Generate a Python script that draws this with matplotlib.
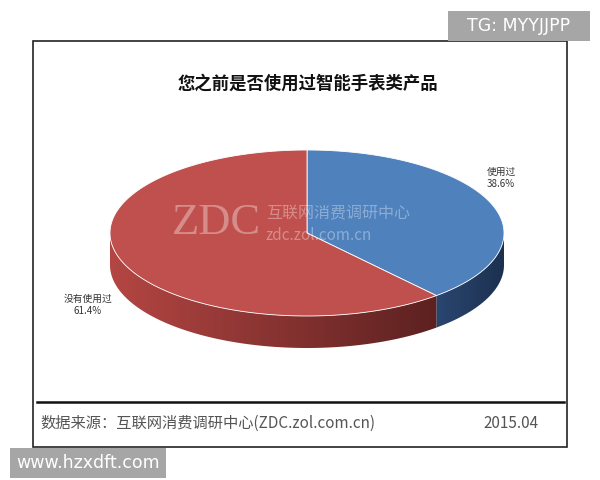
import numpy as np
import matplotlib.pyplot as plt
from matplotlib.patches import Polygon, Rectangle
from matplotlib.colors import LinearSegmentedColormap

plt.rcParams['font.family'] = ['Noto Sans CJK SC', 'DejaVu Sans']

labels = ['使用过', '没有使用过']
shares = [38.6, 61.4]
top_colors = ['#4F81BD', '#C0504D']
title = '您之前是否使用过智能手表类产品'
source = '数据来源：互联网消费调研中心(ZDC.zol.com.cn)'
date = '2015.04'

fig = plt.figure(figsize=(6, 4.8), dpi=100)
ax = fig.add_axes([0, 0, 1, 1])
ax.set_xlim(0, 600)
ax.set_ylim(480, 0)
ax.axis('off')

# frame and footer rule
ax.add_patch(Rectangle((33, 41), 534, 406, fill=False, ec='#222222', lw=1.2))
ax.plot([37, 564], [402, 402], color='#111111', lw=1.8)

# 3d pie geometry
cx, cy, rx, ry, depth = 307, 233, 197, 83, 32

def pt(a):
    a = np.radians(a)
    return cx + rx * np.cos(a), cy - ry * np.sin(a)

# slice angles, clockwise from 12 o'clock
starts = []
a = 90
for s in shares:
    starts.append((a, a - s * 3.6))
    a -= s * 3.6

# side colours: (left end, right end)
side_cols = [('#2A4670', '#1C3150'), ('#B44643', '#5C2120')]

# side walls, front half only, gradient image clipped to the wall shape
for (a0, a1), (cl, cr) in zip(starts, side_cols):
    lo, hi = max(min(a0, a1), -180), min(max(a0, a1), 0)
    if lo >= hi:
        continue
    ang = np.linspace(lo, hi, 200)
    xs, ys = pt(ang)
    verts = list(zip(xs, ys)) + list(zip(xs[::-1], ys[::-1] + depth))
    wall = Polygon(verts, closed=True, fc='none', ec='none')
    ax.add_patch(wall)
    cmap = LinearSegmentedColormap.from_list('side', [cl, cr])
    grad = np.linspace(0, 1, 256).reshape(1, -1)
    im = ax.imshow(grad, cmap=cmap, aspect='auto', interpolation='bilinear',
                   extent=(xs.min(), xs.max(), ys.max() + depth + 1, ys.min() - 1))
    im.set_clip_path(wall)

ax.set_xlim(0, 600)
ax.set_ylim(480, 0)

# top faces
for (a0, a1), col in zip(starts, top_colors):
    ang = np.linspace(a0, a1, 200)
    xs, ys = pt(ang)
    verts = [(cx, cy)] + list(zip(xs, ys))
    ax.add_patch(Polygon(verts, closed=True, fc=col, ec='white', lw=0.6, zorder=3))

# watermark
ax.text(216, 223, 'ZDC', fontsize=32, family='Liberation Serif', color='#F2D8D6',
        alpha=0.45, ha='center', va='center', zorder=4)
ax.text(266, 214, '互联网消费调研中心', fontsize=11.5, color='white', alpha=0.35,
        ha='left', va='center', zorder=4)
ax.text(266, 236, 'zdc.zol.com.cn', fontsize=11, color='white', alpha=0.35,
        ha='left', va='center', zorder=4)

# data labels
ax.text(501, 178, labels[0] + '\n' + f'{shares[0]:.1f}%', fontsize=7, color='#333333',
        ha='center', va='center', linespacing=1.3)
ax.text(88, 305, labels[1] + '\n' + f'{shares[1]:.1f}%', fontsize=7, color='#333333',
        ha='center', va='center', linespacing=1.3)

ax.text(308, 84, title, fontsize=12.5, fontweight='bold', color='#111111',
        ha='center', va='center')
ax.text(40, 423, source, fontsize=11, color='#555555', ha='left', va='center')
ax.text(511, 423, date, fontsize=11, color='#555555', ha='center', va='center')

# overlay tags
ax.add_patch(Rectangle((448, 11), 142, 30, fc='#A6A6A6', ec='none', zorder=5))
ax.text(519, 26, 'TG: MYYJJPP', fontsize=12.5, color='white', ha='center', va='center',
        family='DejaVu Sans', zorder=6)
ax.add_patch(Rectangle((10, 448), 156, 30, fc='#A6A6A6', ec='none', zorder=5))
ax.text(88, 463, 'www.hzxdft.com', fontsize=12.5, color='white', ha='center', va='center',
        family='DejaVu Sans', zorder=6)

fig.savefig('out.png', dpi=100)
